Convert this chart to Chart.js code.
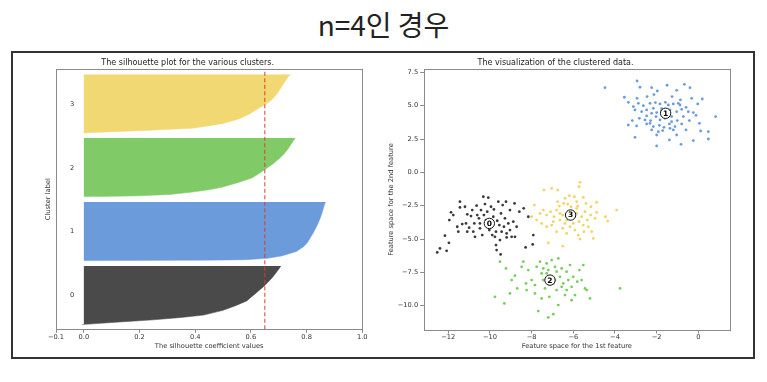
<!DOCTYPE html>
<html>
<head>
<meta charset="utf-8">
<script src="https://cdn.jsdelivr.net/npm/chart.js@4/dist/chart.umd.min.js"></script>
<style>
  html, body { margin:0; padding:0; background:#fff; }
  body { width:767px; height:382px; position:relative; overflow:hidden; }
  #mainTitle { position:absolute; left:0; top:8px; width:767px; text-align:center;
    font-family:"Noto Sans CJK KR","Noto Sans",sans-serif; font-size:28px; line-height:32px; color:#222; }
  #box { position:absolute; left:11px; top:51px; width:744px; height:308px; box-sizing:border-box;
    border:2px solid #333; }
  canvas { position:absolute; }
  #cL { left:13px; top:53px; }
  #cR { left:381px; top:53px; }
</style>
</head>
<body>
<div id="mainTitle">n=4인 경우</div>
<div id="box"></div>
<canvas id="cL" width="367" height="305"></canvas>
<canvas id="cR" width="371" height="305"></canvas>
<script>
// ---------------- DATA ----------------
const clusterIds = [0, 1, 2, 3];
const clusterSizes = [125, 125, 125, 125];
const avgSilhouette = [0.65];
// sample ranks (sorted order inside each cluster) at which silhouette values were read
const silRanks = [0, 1, 2, 5, 10, 15, 20, 30, 40, 50, 60, 70, 80, 90, 100, 110, 118, 124];
const silCluster0 = [-0.007, 0.02, 0.044, 0.116, 0.25, 0.35, 0.43, 0.50, 0.545, 0.585, 0.605, 0.625, 0.645, 0.662, 0.678, 0.691, 0.701, 0.708];
const silCluster1 = [0.0, 0.45, 0.58, 0.66, 0.71, 0.74, 0.765, 0.79, 0.805, 0.815, 0.825, 0.834, 0.842, 0.849, 0.855, 0.86, 0.864, 0.868];
const silCluster2 = [0.0, 0.12, 0.2, 0.31, 0.39, 0.45, 0.495, 0.555, 0.605, 0.632, 0.656, 0.68, 0.70, 0.718, 0.732, 0.743, 0.752, 0.759];
const silCluster3 = [0.0, 0.04, 0.08, 0.22, 0.39, 0.45, 0.50, 0.56, 0.595, 0.622, 0.652, 0.675, 0.69, 0.702, 0.713, 0.724, 0.733, 0.742];
const silXTicks = [-0.1, 0.0, 0.2, 0.4, 0.6, 0.8, 1.0];

const points0 = [[-12.53,-6.0],[-12.4,-5.7],[-12.08,-5.88],[-11.97,-5.28],[-12.16,-4.75],[-11.95,-3.58],[-11.87,-3.0],[-11.76,-3.2],
 [-11.52,-4.45],[-11.57,-4.08],[-11.44,-2.2],[-11.44,-2.63],[-11.33,-3.88],[-11.2,-2.58],[-11.15,-3.83],[-11.09,-3.15],[-11.0,-4.15],
 [-10.91,-3.28],[-10.85,-2.83],[-10.8,-4.45],[-10.75,-3.83],[-10.72,-4.83],[-10.64,-2.5],[-10.61,-3.2],[-10.53,-3.45],[-10.48,-4.2],
 [-10.43,-2.83],[-10.37,-4.7],[-10.32,-1.83],[-10.29,-3.2],[-10.24,-2.38],[-10.19,-3.58],[-10.13,-2.95],[-10.08,-1.9],[-10.03,-4.33],
 [-9.95,-2.58],[-9.89,-4.7],[-9.84,-3.33],[-9.76,-4.83],[-9.71,-4.45],[-9.65,-3.63],[-9.6,-2.2],[-9.55,-3.95],[-9.52,-5.08],[-9.47,-3.08],
 [-9.44,-4.45],[-9.39,-2.45],[-9.33,-4.08],[-9.28,-3.45],[-9.23,-2.2],[-9.2,-4.58],[-9.12,-3.83],[-9.04,-4.33],[-8.96,-4.83],[-8.88,-3.7],
 [-8.82,-2.33],[-8.72,-4.08],[-8.59,-2.95],[-8.38,-2.7],[-8.16,-3.33],[-7.92,-4.7],[-7.95,-5.4],[-8.29,-5.63],[-9.71,-5.45],[-9.49,-6.15],
 [-9.68,-5.83],[-9.2,-4.88],[-9.81,-2.78],[-10.48,-3.83],[-11.09,-4.45],[-9.04,-2.83],[-8.8,-4.83]];
const points1 = [[-4.48,6.35],[-2.94,6.85],[-2.8,6.38],[-2.24,6.35],[-1.5,6.53],[-0.67,6.6],[-0.4,6.35],
 [-3.55,5.63],[-3.36,5.25],[-2.94,5.55],[-2.46,5.68],[-2.13,5.83],[-1.97,6.1],[-1.04,6.15],[-1.26,5.68],[-0.86,5.43],[-0.32,5.55],[0.19,5.5],
 [-3.12,4.93],[-2.88,5.18],[-2.64,5.0],[-2.32,5.18],[-2.06,5.23],[-1.84,5.13],[-1.58,5.25],[-1.44,5.05],[-1.2,5.13],[-0.88,5.05],[-0.59,4.88],[-0.03,5.13],
 [-3.04,4.68],[-2.72,4.55],[-2.48,4.68],[-2.24,4.43],[-2.0,4.48],[-1.76,4.63],[-1.36,4.68],[-1.04,4.55],[-0.8,4.73],[-0.48,4.55],[-0.24,4.48],[0.83,4.18],
 [-3.17,3.88],[-2.83,4.05],[-2.48,4.23],[-2.29,3.88],[-2.03,4.18],[-1.84,3.93],[-1.6,4.05],[-1.28,4.18],[-1.01,3.88],[-0.72,4.18],[-0.43,3.88],[-0.11,4.28],
 [-3.36,3.55],[-2.96,3.48],[-2.48,3.63],[-2.16,3.43],[-1.87,3.53],[-1.65,3.38],[-1.39,3.63],[-1.12,3.43],[-0.8,3.63],[0.05,3.68],
 [-2.24,3.18],[-1.71,3.13],[-1.2,3.18],[-0.59,3.18],[0.11,3.1],[0.48,3.05],
 [-3.04,2.63],[-2.0,2.8],[-1.04,2.8],[0.48,2.5],[-0.24,2.38],[-1.39,2.43],[-2.0,1.98],[-0.83,2.1],
 [-1.76,4.78],[-1.28,3.8],[-2.16,4.8],[-0.96,5.18],[-2.32,3.68],[-1.68,4.3],[-1.92,3.05],[-1.36,3.3],[-2.56,3.93]];
const points2 = [[-9.52,-6.7],[-9.23,-7.2],[-8.96,-8.08],[-9.04,-9.08],[-9.76,-9.33],[-9.31,-9.83],[-8.8,-7.75],[-8.69,-8.7],
 [-8.4,-6.7],[-8.48,-7.08],[-8.27,-8.33],[-8.16,-7.33],[-8.0,-8.08],[-7.84,-8.45],[-7.76,-7.08],[-7.6,-6.7],[-7.52,-7.58],[-7.44,-8.08],
 [-7.36,-8.7],[-7.28,-6.83],[-7.2,-7.33],[-7.15,-9.33],[-7.04,-6.58],[-6.96,-8.33],[-6.88,-7.08],[-6.8,-8.83],[-6.72,-6.45],[-6.64,-7.83],
 [-6.56,-7.2],[-6.48,-8.33],[-6.4,-9.2],[-6.32,-7.45],[-6.24,-8.08],[-6.16,-6.95],[-6.08,-8.58],[-6.0,-7.83],[-5.92,-9.2],[-5.81,-8.2],
 [-5.71,-7.33],[-5.6,-8.08],[-5.52,-6.95],[-5.44,-8.7],[-5.36,-8.83],[-5.2,-9.45],[-3.76,-8.7],[-7.68,-10.4],[-7.2,-10.88],[-6.96,-10.63],
 [-6.72,-9.95],[-6.08,-9.58],[-7.84,-9.08],[-7.52,-9.45],[-8.24,-8.83],[-7.28,-7.58],[-6.88,-8.08],[-6.56,-8.58],[-6.32,-8.83],[-7.44,-7.2],[-6.8,-7.45]];
const points3 = [[-5.68,-0.75],[-5.73,-1.08],[-7.41,-1.33],[-7.04,-1.2],[-6.75,-1.33],[-6.4,-1.95],[-6.19,-1.75],[-5.95,-1.83],[-5.84,-2.2],
 [-5.52,-1.88],[-6.75,-2.2],[-6.67,-2.53],[-6.46,-2.33],[-6.27,-2.38],[-6.11,-2.58],[-5.79,-2.53],[-5.39,-2.33],[-5.15,-2.58],[-4.88,-2.25],
 [-7.87,-2.45],[-7.6,-3.08],[-7.44,-2.83],[-7.28,-3.2],[-7.09,-2.95],[-6.93,-3.33],[-6.8,-2.83],[-6.64,-3.58],[-6.51,-3.2],[-6.4,-3.83],
 [-6.24,-2.95],[-6.08,-3.45],[-5.84,-3.08],[-5.73,-3.7],[-5.6,-3.33],[-5.44,-2.95],[-5.33,-3.58],[-5.17,-3.2],[-4.96,-3.45],[-4.88,-3.0],
 [-3.92,-2.83],[-4.46,-3.33],[-4.35,-3.65],[-8.0,-3.33],[-7.76,-3.58],[-7.52,-3.83],[-7.28,-4.08],[-7.04,-3.95],[-6.8,-4.45],[-6.51,-4.2],
 [-6.32,-4.58],[-6.16,-4.08],[-5.92,-4.33],[-5.76,-4.7],[-5.68,-5.0],[-5.49,-4.45],[-5.28,-4.08],[-5.12,-4.45],[-5.04,-4.95],[-7.2,-5.28],
 [-6.51,-5.53],[-6.32,-3.58],[-6.0,-3.83],[-5.52,-3.95],[-5.84,-2.7],[-6.64,-3.08],[-6.96,-3.7]];
const centers = [[-10.03,-3.83],[-1.57,4.43],[-7.12,-8.08],[-6.13,-3.2]];
const scatterXTicks = [-12, -10, -8, -6, -4, -2, 0];
const scatterYTicks = [-10, -7.5, -5, -2.5, 0, 2.5, 5, 7.5];

// ---------------- STYLE ----------------
const silColors = ['#4a4a4a', '#6c9bdc', '#80ca68', '#f1d873'];
const ptColors = ['#3a3a3a', '#6a9be0', '#79cc5e', '#f2d263'];
const spine = '#8a8a8a';
const txt = '#333';
const FONT = 'DejaVu Sans';
const tickFont = { family: FONT, size: 6.7 };
const fmt = (v, d) => v.toFixed(d).replace('-', '\u2212');

const framePlugin = {
  id: 'frame',
  afterDatasetsDraw(chart) {
    const { ctx, chartArea: a } = chart;
    ctx.save();
    ctx.strokeStyle = spine;
    ctx.lineWidth = 1;
    ctx.strokeRect(Math.round(a.left) + 0.5, Math.round(a.top) + 0.5,
      Math.round(a.right) - Math.round(a.left), Math.round(a.bottom) - Math.round(a.top));
    ctx.restore();
  }
};

// ---------------- LEFT: silhouette ----------------
const yLower = [];
let yl = 10;
clusterSizes.forEach(s => { yLower.push(yl); yl += s + 10; });
const yTop = yl;
const silValues = [silCluster0, silCluster1, silCluster2, silCluster3];

const silDatasets = [{
  data: [{ x: avgSilhouette[0], y: 0 }, { x: avgSilhouette[0], y: yTop }],
  borderColor: '#dd3b2e', borderWidth: 1, borderDash: [4, 2.5], pointRadius: 0, fill: false
}];
clusterIds.forEach((c, i) => {
  silDatasets.push({
    data: silRanks.map((r, k) => ({ x: silValues[i][k], y: yLower[i] + r })),
    borderColor: silColors[i], backgroundColor: silColors[i], borderWidth: 0.5,
    pointRadius: 0, fill: 'origin', tension: 0
  });
});

const clusterLabelPlugin = {
  id: 'clusterLabels',
  afterDatasetsDraw(chart) {
    const { ctx, scales: { x, y } } = chart;
    ctx.save();
    ctx.font = '6.7px "DejaVu Sans"';
    ctx.fillStyle = txt;
    ctx.textAlign = 'left';
    ctx.textBaseline = 'alphabetic';
    clusterIds.forEach((c, i) => {
      ctx.fillText(String(c), x.getPixelForValue(-0.05), y.getPixelForValue(yLower[i] + clusterSizes[i] / 2) + 2.4);
    });
    ctx.restore();
  }
};

new Chart(document.getElementById('cL'), {
  type: 'line',
  data: { datasets: silDatasets },
  options: {
    indexAxis: 'y',
    responsive: false, animation: false, events: [],
    layout: { padding: { left: 0, right: 17.7, top: 0, bottom: 0 } },
    plugins: {
      legend: { display: false }, tooltip: { enabled: false },
      title: { display: true, text: 'The silhouette plot for the various clusters.', color: '#222',
        font: { family: FONT, size: 8, weight: 'normal' }, padding: { top: 4.9, bottom: 1.5 } }
    },
    scales: {
      x: {
        type: 'linear', min: -0.1, max: 1.0,
        afterBuildTicks: s => { s.ticks = silXTicks.map(v => ({ value: v })); },
        ticks: { callback: v => fmt(v, 1), font: tickFont, color: txt, padding: 0, maxRotation: 0, autoSkip: false },
        grid: { display: true, drawOnChartArea: false, drawTicks: true, tickLength: 3.5, color: spine },
        border: { display: false },
        title: { display: true, text: 'The silhouette coefficient values', color: txt, font: tickFont, padding: { top: 0, bottom: 7.5 } },
        afterFit: s => { s.height = 28.7; }
      },
      y: {
        type: 'linear', min: 0, max: yTop,
        ticks: { display: false },
        grid: { display: false, drawTicks: false },
        border: { display: false },
        title: { display: true, text: 'Cluster label', color: txt, font: tickFont, padding: { top: 31, bottom: 0 } },
        afterFit: s => { s.width = 43; }
      }
    }
  },
  plugins: [framePlugin, clusterLabelPlugin]
});

// ---------------- RIGHT: scatter ----------------
const allPoints = [points0, points1, points2, points3];
const scDatasets = [{
  data: centers.map(p => ({ x: p[0], y: p[1] })),
  backgroundColor: '#ffffff', borderColor: '#111', borderWidth: 1, pointRadius: 5.2
}];
clusterIds.forEach((c, i) => {
  scDatasets.push({
    data: allPoints[i].map(p => ({ x: p[0], y: p[1] })),
    backgroundColor: ptColors[i], borderWidth: 0, pointRadius: 1.4
  });
});

const centerLabelPlugin = {
  id: 'centerLabels',
  afterDatasetsDraw(chart) {
    const { ctx, scales: { x, y } } = chart;
    ctx.save();
    ctx.font = 'bold 7.5px "DejaVu Sans"';
    ctx.fillStyle = '#000';
    ctx.textAlign = 'center';
    ctx.textBaseline = 'middle';
    centers.forEach((p, i) => {
      ctx.fillText(String(clusterIds[i]), x.getPixelForValue(p[0]), y.getPixelForValue(p[1]) + 0.5);
    });
    ctx.restore();
  }
};

new Chart(document.getElementById('cR'), {
  type: 'scatter',
  data: { datasets: scDatasets },
  options: {
    responsive: false, animation: false, events: [],
    layout: { padding: { left: 0, right: 22, top: 0, bottom: 0 } },
    plugins: {
      legend: { display: false }, tooltip: { enabled: false },
      title: { display: true, text: 'The visualization of the clustered data.', color: '#222',
        font: { family: FONT, size: 8, weight: 'normal' }, padding: { top: 4.9, bottom: 1.5 } }
    },
    scales: {
      x: {
        type: 'linear', min: -13.18, max: 1.52,
        afterBuildTicks: s => { s.ticks = scatterXTicks.map(v => ({ value: v })); },
        ticks: { callback: v => fmt(v, 0), font: tickFont, color: txt, padding: 0, maxRotation: 0, autoSkip: false },
        grid: { display: true, drawOnChartArea: false, drawTicks: true, tickLength: 3.5, color: spine },
        border: { display: false },
        title: { display: true, text: 'Feature space for the 1st feature', color: txt, font: tickFont, padding: { top: 0, bottom: 7.5 } },
        afterFit: s => { s.height = 28; }
      },
      y: {
        type: 'linear', min: -11.82, max: 7.75,
        afterBuildTicks: s => { s.ticks = scatterYTicks.map(v => ({ value: v })); },
        ticks: { callback: v => fmt(v, 1), font: tickFont, color: txt, padding: 2, autoSkip: false },
        grid: { display: true, drawOnChartArea: false, drawTicks: true, tickLength: 3.5, color: spine },
        border: { display: false },
        title: { display: true, text: 'Feature space for the 2nd feature', color: txt, font: tickFont, padding: { top: 6.7, bottom: 0 } },
        afterFit: s => { s.width = 42.7; }
      }
    }
  },
  plugins: [framePlugin, centerLabelPlugin]
});
</script>
</body>
</html>
